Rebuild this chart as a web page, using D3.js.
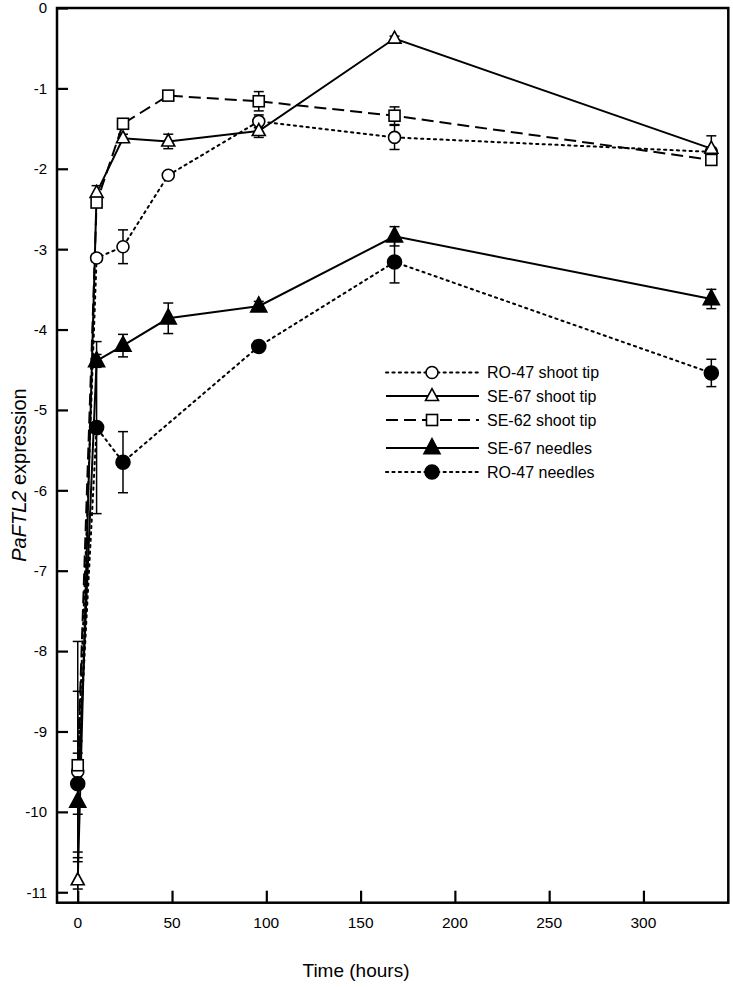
<!DOCTYPE html>
<html><head><meta charset="utf-8">
<script src="https://cdn.jsdelivr.net/npm/d3@7"></script>
<style>body{margin:0;background:#fff}svg{display:block}text{font-family:"Liberation Sans",Arial,Helvetica,sans-serif;fill:#000}</style>
</head><body><svg id="c" width="733" height="987"></svg>
<script>
const times = [0, 10, 24, 48, 96, 168, 336];
const timesNeedlesRO = [0, 10, 24, 96, 168, 336];
const ro47TipVals = [-9.5, -3.11, -2.97, -2.08, -1.41, -1.61, -1.79];
const ro47TipErr  = [1.0, 0.05, 0.21, 0.04, 0.08, 0.15, 0.05];
const se67TipVals = [-10.85, -2.30, -1.62, -1.66, -1.53, -0.38, -1.75];
const se67TipErr  = [0.28, 0.09, 0.05, 0.09, 0.08, 0.03, 0.16];
const se62TipVals = [-9.42, -2.42, -1.44, -1.09, -1.16, -1.34, -1.89];
const se62TipErr  = [1.54, 0.05, 0.04, 0.03, 0.12, 0.11, 0.05];
const se67NeedVals = [-9.87, -4.39, -4.20, -3.86, -3.71, -2.84, -3.62];
const se67NeedErr  = [0.75, 0.08, 0.14, 0.19, 0.06, 0.12, 0.12];
const ro47NeedVals = [-9.65, -5.22, -5.65, -4.21, -3.16, -4.54];
const ro47NeedErr  = [0.38, 1.07, 0.38, 0.05, 0.26, 0.17];
const xTicks = [0, 50, 100, 150, 200, 250, 300];
const yTicks = [0, -1, -2, -3, -4, -5, -6, -7, -8, -9, -10, -11];

const series = [
  {name:"RO-47 shoot tip", t:times, v:ro47TipVals, e:ro47TipErr, sym:"circle", fill:false, dash:"dot"},
  {name:"SE-67 shoot tip", t:times, v:se67TipVals, e:se67TipErr, sym:"triangle", fill:false, dash:"solid"},
  {name:"SE-62 shoot tip", t:times, v:se62TipVals, e:se62TipErr, sym:"square", fill:false, dash:"dash"},
  {name:"SE-67 needles", t:times, v:se67NeedVals, e:se67NeedErr, sym:"triangle", fill:true, dash:"solid"},
  {name:"RO-47 needles", t:timesNeedlesRO, v:ro47NeedVals, e:ro47NeedErr, sym:"circle", fill:true, dash:"dot"}
];

const L=57, R=728.3, T=8, B=902.7;
const x = d3.scaleLinear().domain([-11, 345]).range([L, R]);
const y = d3.scaleLinear().domain([0, -11.13]).range([T, B]);
const svg = d3.select("#c");

const dashes = {dot:"2.2,4.2", solid:null, dash:"12,6"};
const caps = {dot:"round", solid:"butt", dash:"butt"};

function drawSym(g, s, cx, cy){
  let el;
  const fill = s.fill ? "#000" : "#fff";
  if(s.sym==="circle"){
    const r = s.fill ? 7 : 6;
    el = g.append("circle").attr("cx",cx).attr("cy",cy).attr("r",r);
  } else if(s.sym==="triangle"){
    const h = s.fill ? 15 : 12, w = s.fill ? 16 : 13;
    const pts = [[cx, cy - h*0.62],[cx - w/2, cy + h*0.38],[cx + w/2, cy + h*0.38]];
    el = g.append("path").attr("d", d3.line()(pts) + "Z");
  } else {
    const a = 11;
    el = g.append("rect").attr("x",cx-a/2).attr("y",cy-a/2).attr("width",a).attr("height",a);
  }
  el.attr("fill", fill).attr("stroke","#000").attr("stroke-width", 1.6);
}

series.forEach(s=>{
  const pts = s.t.map((t,i)=>[x(t), y(s.v[i])]);
  svg.append("path").attr("d", d3.line()(pts)).attr("fill","none").attr("stroke","#000")
    .attr("stroke-width",2).attr("stroke-dasharray",dashes[s.dash]).attr("stroke-linecap",caps[s.dash]);
});
series.forEach(s=>{
  s.t.forEach((t,i)=>{
    const cx = x(t), y1 = y(s.v[i]+s.e[i]), y2 = y(s.v[i]-s.e[i]);
    const g = svg.append("g").attr("stroke","#000").attr("stroke-width",1.5);
    g.append("line").attr("x1",cx).attr("x2",cx).attr("y1",y1).attr("y2",y2);
    g.append("line").attr("x1",cx-5).attr("x2",cx+5).attr("y1",y1).attr("y2",y1);
    g.append("line").attr("x1",cx-5).attr("x2",cx+5).attr("y1",y2).attr("y2",y2);
  });
});
series.forEach(s=>{
  s.t.forEach((t,i)=> drawSym(svg, s, x(t), y(s.v[i])));
});

svg.append("rect").attr("x",L).attr("y",T).attr("width",R-L).attr("height",B-T)
  .attr("fill","none").attr("stroke","#000").attr("stroke-width",2.5);

const yAx = d3.axisRight(y).tickValues(yTicks).tickSize(11).tickFormat("");
svg.append("g").attr("transform",`translate(${L},0)`).call(yAx)
  .call(g=>{g.select(".domain").remove(); g.selectAll("line").attr("stroke-width",2.2);});
svg.append("g").selectAll("text").data(yTicks).join("text")
  .attr("x",47).attr("y",d=>y(d)).attr("dy","0.36em").attr("text-anchor","end")
  .attr("font-size",15).text(d=>d);
const xAx = d3.axisTop(x).tickValues(xTicks).tickSize(12).tickFormat("");
svg.append("g").attr("transform",`translate(0,${B})`).call(xAx)
  .call(g=>{g.select(".domain").remove(); g.selectAll("line").attr("stroke-width",2.2);});
svg.append("g").selectAll("text").data(xTicks).join("text")
  .attr("x",d=>x(d)).attr("y",922).attr("dy","0.36em").attr("text-anchor","middle")
  .attr("font-size",15.5).text(d=>d);

svg.append("text").attr("x",356).attr("y",977).attr("text-anchor","middle")
  .attr("font-size",19).text("Time (hours)");
const yl = svg.append("text").attr("transform","translate(26,475) rotate(-90)")
  .attr("text-anchor","middle").attr("font-size",20);
yl.append("tspan").attr("font-style","italic").text("PaFTL2");
yl.append("tspan").text(" expression");

const legY = [372.5, 396, 420, 448, 472];
series.forEach((s,i)=>{
  const ly = legY[i];
  svg.append("line").attr("x1",386).attr("x2",479).attr("y1",ly).attr("y2",ly)
    .attr("stroke","#000").attr("stroke-width",2).attr("stroke-dasharray",dashes[s.dash]).attr("stroke-linecap",caps[s.dash]);
  drawSym(svg, s, 432, ly);
  svg.append("text").attr("x",487).attr("y",ly).attr("dy","0.36em").attr("font-size",16).text(s.name);
});
</script></body></html>
